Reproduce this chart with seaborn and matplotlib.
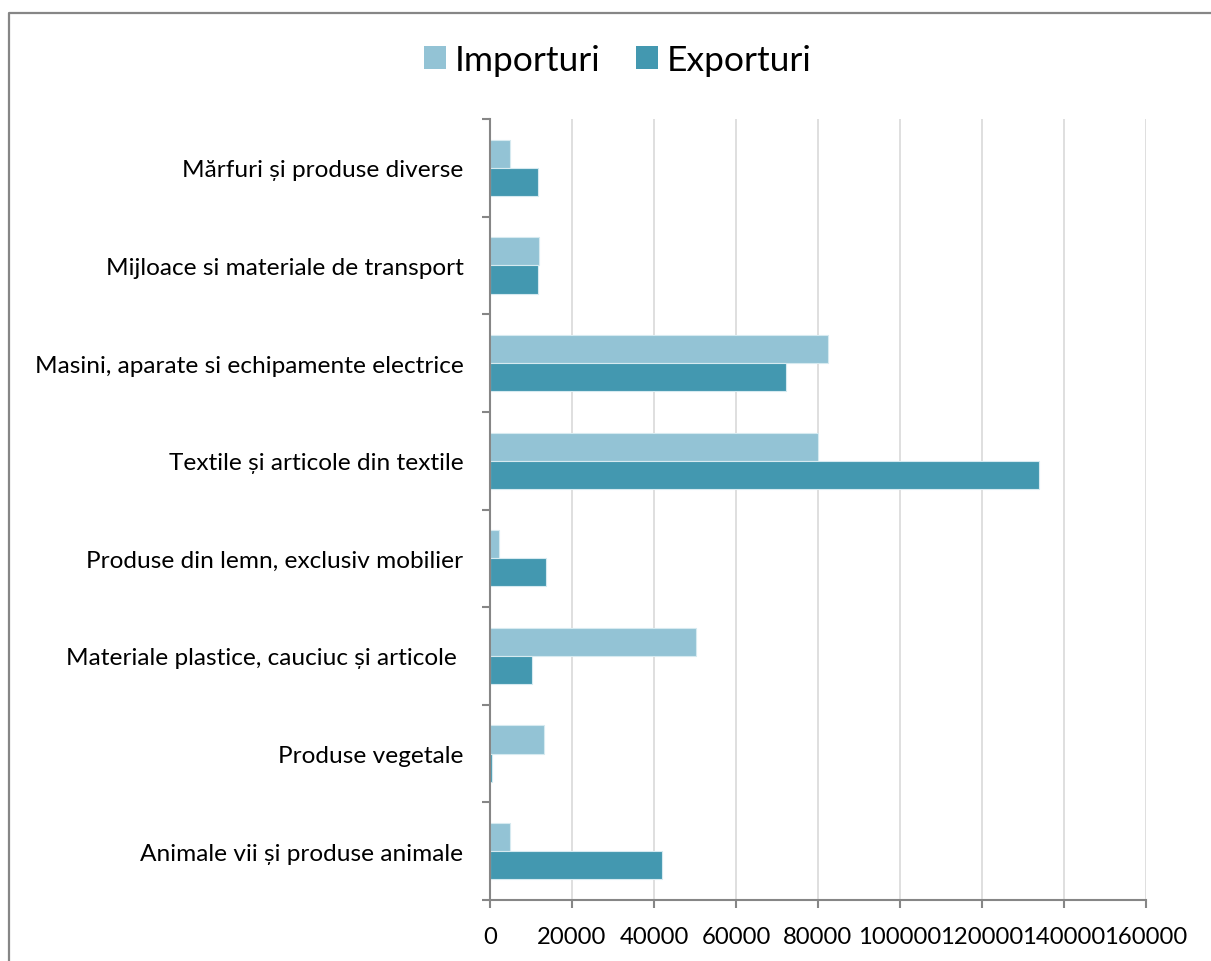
import matplotlib
matplotlib.use("Agg")
import matplotlib.pyplot as plt
from matplotlib.lines import Line2D
from matplotlib.patches import Patch
import seaborn as sns
import pandas as pd
import numpy as np

categories = [
    "Mărfuri și produse diverse",
    "Mijloace si materiale de transport",
    "Masini, aparate si echipamente electrice",
    "Textile și articole din textile",
    "Produse din lemn, exclusiv mobilier",
    "Materiale plastice, cauciuc și articole ",
    "Produse vegetale",
    "Animale vii și produse animale",
]
importuri = [4900, 11900, 82500, 80000, 2100, 50300, 13100, 4800]
exporturi = [11700, 11700, 72300, 133800, 13700, 10200, 600, 42000]
series_names = ["Importuri", "Exporturi"]
x_ticks = [0, 20000, 40000, 60000, 80000, 100000, 120000, 140000, 160000]

colors = {"Importuri": "#93C3D5", "Exporturi": "#4398B0"}

df = pd.DataFrame({
    "Categorie": categories * 2,
    "Valoare": importuri + exporturi,
    "Serie": [series_names[0]] * len(categories) + [series_names[1]] * len(categories),
})

sns.set_theme(style="white")
plt.rcParams["font.family"] = ["Lato", "DejaVu Sans"]
plt.rcParams["text.color"] = "black"

W, H = 1211, 962
fig = plt.figure(figsize=(W / 100, H / 100), dpi=100)
left, right, top, bottom = 490 / W, 1146 / W, 1 - 120 / H, 1 - 901 / H
ax = fig.add_axes([left, bottom, right - left, top - bottom])

sns.barplot(data=df, x="Valoare", y="Categorie", hue="Serie", orient="h",
            palette=colors, width=0.575, gap=0, edgecolor="#D6EAF0",
            linewidth=0.8, ax=ax, legend=False, order=categories,
            hue_order=series_names, errorbar=None, saturation=1)

ax.set_xlim(0, 160000)
ax.set_ylim(7.5, -0.5)
ax.set_xticks(x_ticks)
ax.set_xticklabels([str(v) for v in x_ticks])
ax.set_xlabel("")
ax.set_ylabel("")

grid_c = "#D9D9D9"
spine_c = "#868686"
ax.xaxis.grid(True, color=grid_c, linewidth=1.2)
ax.yaxis.grid(False)
ax.set_axisbelow(True)
for s in ["top", "right"]:
    ax.spines[s].set_visible(False)
for s in ["left", "bottom"]:
    ax.spines[s].set_color(spine_c)
    ax.spines[s].set_linewidth(1.5)

ax.set_yticks(np.arange(-0.5, 8.0, 1.0), minor=True)
ax.tick_params(axis="y", which="major", length=0, pad=19, labelsize=17.6, labelcolor="black")
ax.tick_params(axis="y", which="minor", length=6, width=1.5, color=spine_c, direction="out", left=True)
ax.tick_params(axis="x", which="major", length=6, width=1.5, color=spine_c, direction="out",
               bottom=True, pad=13, labelsize=17.2, labelcolor="black")

# legend
handles = [Patch(facecolor=colors[n], edgecolor="none", label=n) for n in series_names]
fig.legend(handles=handles, loc="center", bbox_to_anchor=(618 / W, 1 - 61 / H),
           ncol=2, frameon=False, fontsize=25.5, handlelength=0.62, handleheight=0.62,
           handletextpad=0.25, columnspacing=1.0, labelcolor="black")

# outer border (top and left visible)
bx, by = 9 / W, 1 - 14 / H
fig.add_artist(Line2D([bx, bx, 1.01], [-0.01, by, by], transform=fig.transFigure,
                      color=spine_c, linewidth=1.6))

fig.savefig("out.png", dpi=100)
